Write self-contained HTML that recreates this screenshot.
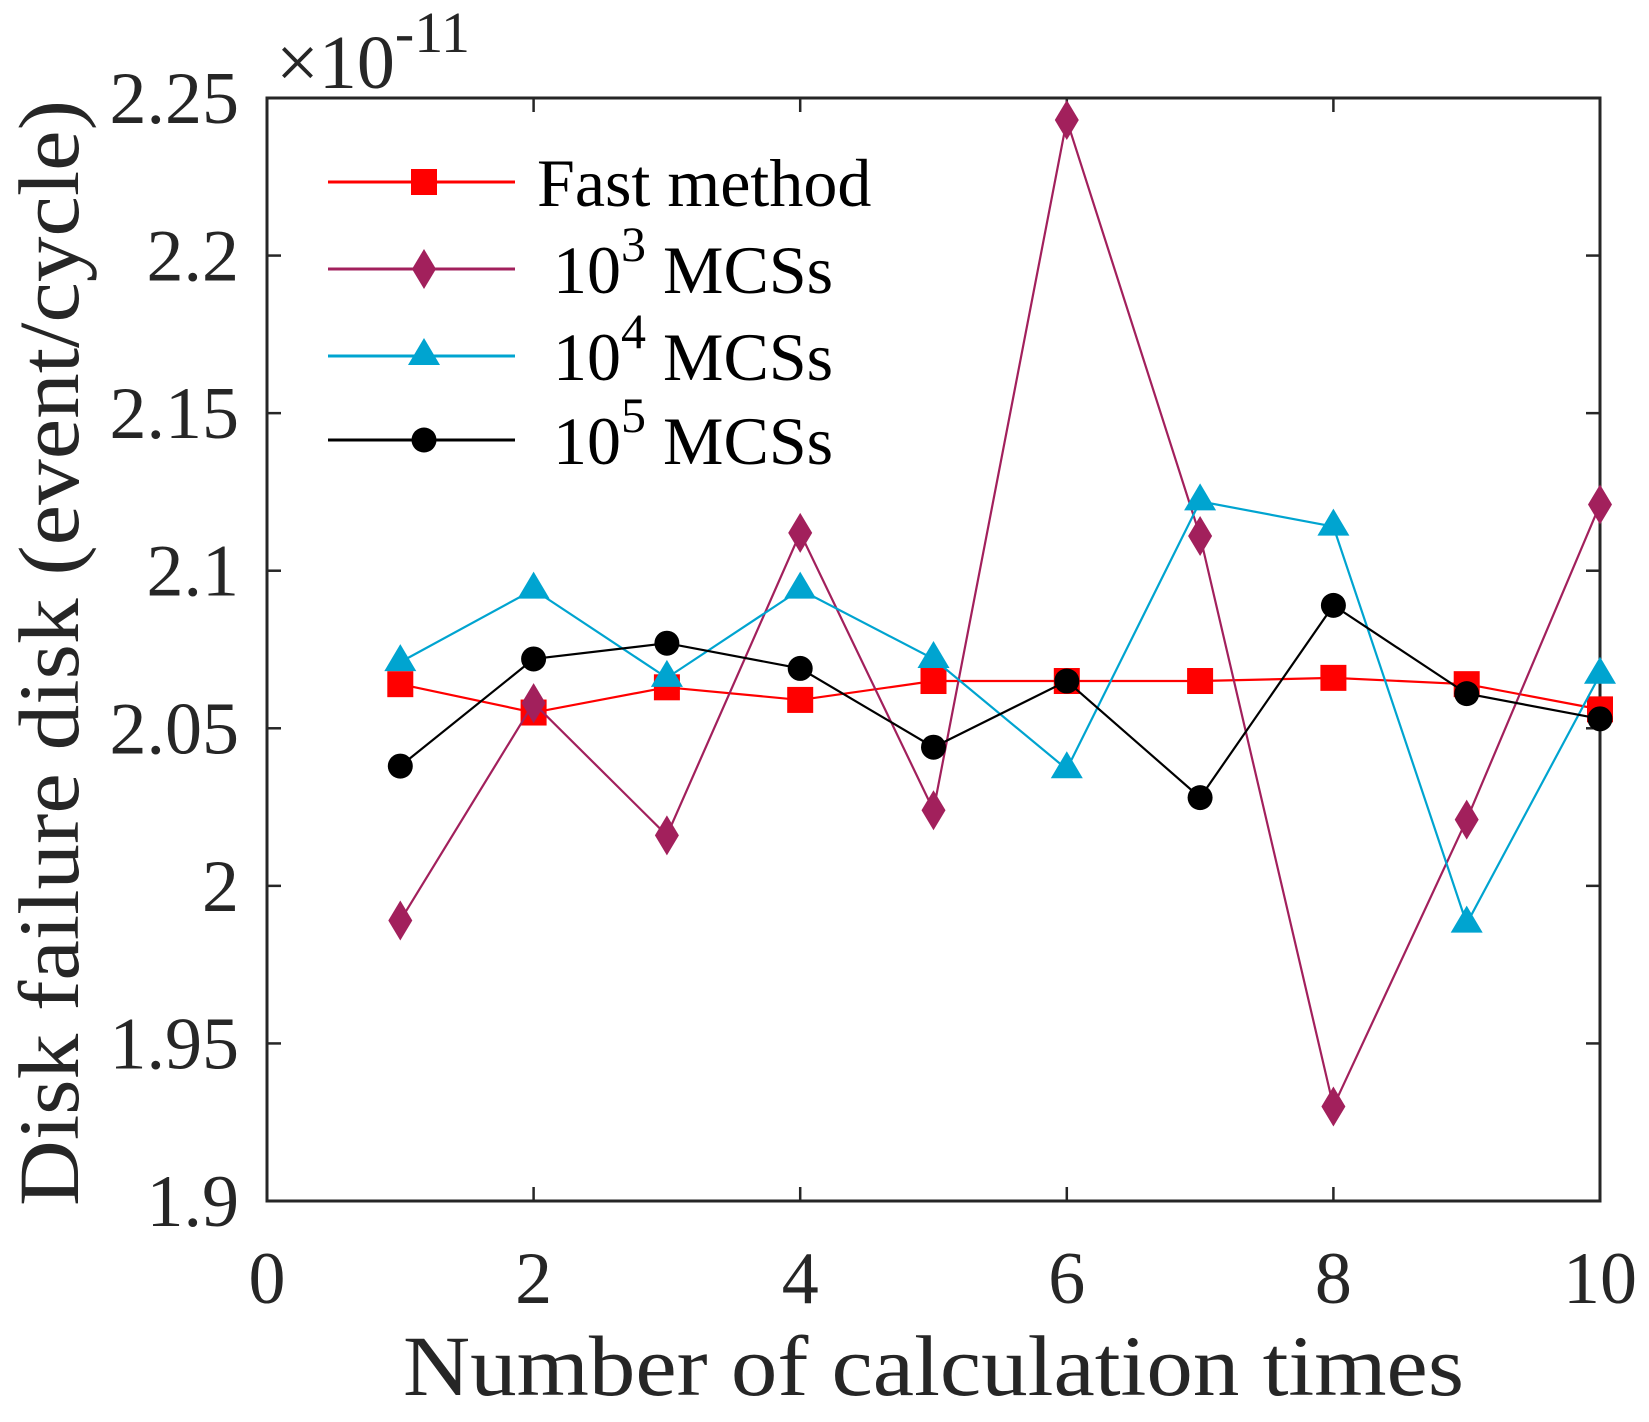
<!DOCTYPE html>
<html><head><meta charset="utf-8"><style>
html,body{margin:0;padding:0;background:#fff;}
svg{display:block;font-family:"Liberation Serif",serif;}
</style></head><body>
<svg id="chart" width="1649" height="1422" viewBox="0 0 1649 1422">
<rect width="1649" height="1422" fill="#fff"/>
<g id="plot"></g>
</svg>
<script>
const categories=[1,2,3,4,5,6,7,8,9,10];
const fastValues=[2.064,2.055,2.063,2.059,2.065,2.065,2.065,2.066,2.064,2.056];
const mcs3Values=[1.989,2.058,2.016,2.112,2.024,2.243,2.111,1.930,2.021,2.121];
const mcs4Values=[2.071,2.094,2.066,2.094,2.072,2.037,2.122,2.114,1.988,2.067];
const mcs5Values=[2.038,2.072,2.077,2.069,2.044,2.065,2.028,2.089,2.061,2.053];
const xTicks=[0,2,4,6,8,10];
const yTicks=[1.9,1.95,2,2.05,2.1,2.15,2.2,2.25];
const yTickLabels=["1.9","1.95","2","2.05","2.1","2.15","2.2","2.25"];

const NS="http://www.w3.org/2000/svg";
const L=267,R=1600,T=98,B=1201;
const xs=v=>L+(v-0)/(10-0)*(R-L);
const ys=v=>B-(v-1.9)/(2.25-1.9)*(B-T);
const g=document.getElementById('plot');
function mk(tag,attrs,parent){const e=document.createElementNS(NS,tag);for(const k in attrs)e.setAttribute(k,attrs[k]);(parent||g).appendChild(e);return e;}

const box=mk('rect',{x:L,y:T,width:R-L,height:B-T,fill:'none',stroke:'#262626','stroke-width':3});



xTicks.forEach(v=>{
  const x=xs(v);
  mk('line',{x1:x,y1:B,x2:x,y2:B-14,stroke:'#262626','stroke-width':2.5});
  mk('line',{x1:x,y1:T,x2:x,y2:T+14,stroke:'#262626','stroke-width':2.5});
  const t=mk('text',{x:x,y:1303,'text-anchor':'middle','font-size':74,fill:'#262626'});
  t.textContent=String(v);
  
  
});
yTicks.forEach((v,i)=>{
  const y=ys(v);
  mk('line',{x1:L,y1:y,x2:L+14,y2:y,stroke:'#262626','stroke-width':2.5});
  mk('line',{x1:R,y1:y,x2:R-14,y2:y,stroke:'#262626','stroke-width':2.5});
  const t=mk('text',{x:239,y:y+25,'text-anchor':'end','font-size':74,fill:'#262626'});
  t.textContent=yTickLabels[i];
  
  
});

const exp=mk('text',{x:276,y:88,'font-size':76,fill:'#262626'});
exp.innerHTML='×10<tspan dy="-36" font-size="58">-11</tspan>';



const xl=mk('text',{x:403,y:1395,'font-size':86,fill:'#262626',textLength:1061,lengthAdjust:'spacingAndGlyphs'});
xl.textContent='Number of calculation times';



const yl=mk('text',{x:-1206,y:78,'font-size':86,fill:'#262626',transform:'rotate(-90)',textLength:1106,lengthAdjust:'spacingAndGlyphs'});
yl.textContent='Disk failure disk (event/cycle)';



function marker(type,x,y,color,parent){
  if(type==='square') return mk('rect',{x:x-13,y:y-13,width:26,height:26,fill:color},parent);
  if(type==='diamond') return mk('polygon',{points:`${x},${y-20} ${x+12},${y} ${x},${y+20} ${x-12},${y}`,fill:color},parent);
  if(type==='triangle') return mk('polygon',{points:`${x},${y-18} ${x+16},${y+9} ${x-16},${y+9}`,fill:color},parent);
  return mk('circle',{cx:x,cy:y,r:12.5,fill:color},parent);
}
const series=[
 {name:'fast-method',vals:fastValues,color:'#ff0000',m:'square'},
 {name:'mcs-1e3',vals:mcs3Values,color:'#a2205c',m:'diamond'},
 {name:'mcs-1e4',vals:mcs4Values,color:'#00a4d0',m:'triangle'},
 {name:'mcs-1e5',vals:mcs5Values,color:'#000000',m:'circle'}
];
series.forEach(s=>{
  const sg=mk('g',{});
  
  
  const pts=categories.map((c,i)=>xs(c)+','+ys(s.vals[i])).join(' ');
  mk('polyline',{points:pts,fill:'none',stroke:s.color,'stroke-width':2.2},sg);
  categories.forEach((c,i)=>{
    const m=marker(s.m,xs(c),ys(s.vals[i]),s.color,sg);
    
    
  });
});

const legY=[182,269,356,440];
const legLabels=['Fast method','10|3 MCSs','10|4 MCSs','10|5 MCSs'];
series.forEach((s,i)=>{
  const lg=mk('g',{});
  
  
  const y=legY[i];
  mk('line',{x1:328,y1:y,x2:515,y2:y,stroke:s.color,'stroke-width':3},lg);
  marker(s.m,424,y,s.color,lg);
  const t=mk('text',{x:i===0?537:553,y:y+24,'font-size':68,fill:'#000'},lg);
  if(i===0) t.textContent=legLabels[0];
  else{const p=legLabels[i].split('|');t.innerHTML=p[0]+'<tspan dy="-32" font-size="50">'+p[1].split(' ')[0]+'</tspan><tspan dy="32"> MCSs</tspan>';}
});
</script>
</body></html>
